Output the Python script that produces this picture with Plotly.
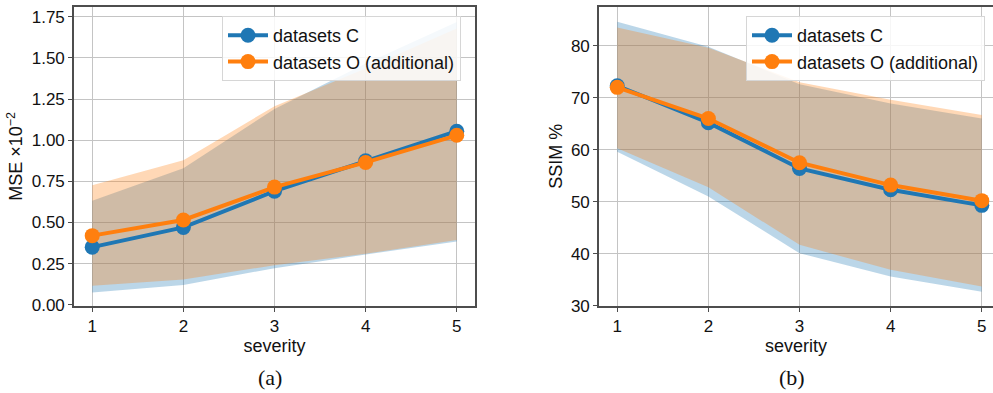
import plotly.graph_objects as go

# Severity levels shared by both panels
severity = [1, 2, 3, 4, 5]

# MSE (x10^-2): mean and band limits
mse_c = [0.35, 0.47, 0.69, 0.875, 1.055]
mse_c_low = [0.075, 0.12, 0.222, 0.305, 0.385]
mse_c_high = [0.632, 0.829, 1.19, 1.466, 1.719]
mse_o = [0.42, 0.515, 0.715, 0.865, 1.03]
mse_o_low = [0.115, 0.154, 0.24, 0.31, 0.393]
mse_o_high = [0.727, 0.879, 1.207, 1.436, 1.679]

# SSIM (%): mean and band limits
ssim_c = [72.3, 65.2, 56.4, 52.3, 49.3]
ssim_c_low = [59.6, 51.0, 40.1, 35.6, 32.7]
ssim_c_high = [84.6, 79.8, 72.6, 68.9, 66.0]
ssim_o = [72.0, 66.0, 57.5, 53.2, 50.2]
ssim_o_low = [60.3, 52.8, 41.7, 36.9, 33.7]
ssim_o_high = [83.5, 79.6, 73.0, 69.6, 66.7]

names = ["datasets C", "datasets O (additional)"]
blue = "#1f77b4"
orange = "#ff7f0e"
band_blue = "rgba(31,119,180,0.3)"
band_orange = "rgba(255,127,14,0.3)"

W, H = 993, 393
FONT = "Liberation Sans, Arial, sans-serif"

fig = go.Figure()


def band(x, lo, hi, color, xa, ya):
    fig.add_trace(go.Scatter(
        x=list(x) + list(x)[::-1], y=list(hi) + list(lo)[::-1],
        fill="toself", fillcolor=color, line=dict(width=0),
        mode="lines", hoverinfo="skip", showlegend=False,
        xaxis=xa, yaxis=ya))


def line(x, y, color, name, xa, ya, legend):
    fig.add_trace(go.Scatter(
        x=x, y=y, mode="lines+markers", name=name,
        line=dict(color=color, width=4),
        marker=dict(color=color, size=15),
        showlegend=True, legend=legend, xaxis=xa, yaxis=ya))


# Panel (a): MSE
band(severity, mse_c_low, mse_c_high, band_blue, "x", "y")
band(severity, mse_o_low, mse_o_high, band_orange, "x", "y")
line(severity, mse_c, blue, names[0], "x", "y", "legend")
line(severity, mse_o, orange, names[1], "x", "y", "legend")

# Panel (b): SSIM
band(severity, ssim_c_low, ssim_c_high, band_blue, "x2", "y2")
band(severity, ssim_o_low, ssim_o_high, band_orange, "x2", "y2")
line(severity, ssim_c, blue, names[0], "x2", "y2", "legend2")
line(severity, ssim_o, orange, names[1], "x2", "y2", "legend2")

spine = "#4d4d4d"
grid = "#c4c4c4"
TICK = 17
LABEL = 18
tickfont = dict(family=FONT, size=TICK, color="#111")
labelfont = dict(family=FONT, size=LABEL, color="#111")

common_axis = dict(
    showgrid=True, gridcolor=grid, gridwidth=1,
    showline=True, linecolor=spine, linewidth=1.6,
    ticks="outside", ticklen=4, tickwidth=1.2, tickcolor=spine,
    tickfont=tickfont, zeroline=False, automargin=False,
)

y_bot = (H - 305.7) / H
y_top = (H - 7) / H

legend_style = dict(
    bgcolor="rgba(255,255,255,0.85)", bordercolor="#d6d6d6", borderwidth=1,
    font=dict(family=FONT, size=LABEL, color="#111"),
    xanchor="left", yanchor="top", tracegroupgap=0, itemwidth=40,
)

fig.update_layout(
    width=W, height=H, margin=dict(l=0, r=0, t=0, b=0),
    paper_bgcolor="white", plot_bgcolor="white",
    font=dict(family=FONT, size=TICK, color="#111"),
    xaxis=dict(common_axis, domain=[74 / W, 475 / W], range=[0.8, 5.2],
               tickvals=severity, mirror=True, anchor="y",
               title=dict(text="severity", standoff=3, font=labelfont)),
    yaxis=dict(common_axis, domain=[y_bot, y_top], range=[-0.006, 1.81],
               tickvals=[0, 0.25, 0.5, 0.75, 1.0, 1.25, 1.5, 1.75],
               tickformat=".2f", mirror=True, anchor="x",
               title=dict(text="MSE ×10<sup>−2</sup>", standoff=4,
                          font=labelfont)),
    xaxis2=dict(common_axis, domain=[599 / W, 1.0], range=[0.8, 5.123],
                tickvals=severity, mirror=True, anchor="y2",
                title=dict(text="severity", standoff=3, font=labelfont)),
    yaxis2=dict(common_axis, domain=[y_bot, y_top], range=[30, 87.45],
                tickvals=[30, 40, 50, 60, 70, 80], mirror=False, anchor="x2",
                title=dict(text="SSIM %", standoff=4, font=labelfont)),
    legend=dict(legend_style, x=222 / W, y=1 - 16 / H),
    legend2=dict(legend_style, x=746 / W, y=1 - 16 / H),
)

# Panel captions
for label, xc in [("(a)", 270), ("(b)", 792)]:
    fig.add_annotation(
        text=label, x=xc / W, y=1 - 377 / H, xref="paper", yref="paper",
        xanchor="center", yanchor="middle", showarrow=False,
        font=dict(family="Liberation Serif, Times New Roman, serif",
                  size=22, color="#111"))

# Strip below the axis titles (titles are trimmed at their baseline)
fig.add_shape(type="rect", xref="paper", yref="paper",
              x0=0, x1=1, y0=1 - 360 / H, y1=1 - 348.5 / H,
              fillcolor="white", line=dict(width=0), layer="above")

fig.write_html("out.html")
